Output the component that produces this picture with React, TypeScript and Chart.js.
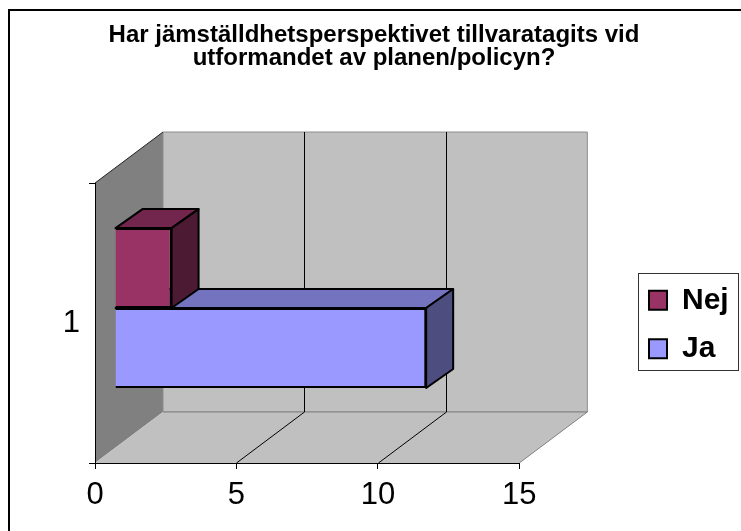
import React, { useEffect, useRef } from 'react';
import { Chart, registerables } from 'chart.js';

Chart.register(...registerables);

// ---- data ----
const categories = ['1'];
const seriesLabels = ['Nej', 'Ja'];
const nejValues = [2];
const jaValues = [11];
const xMin = 0;
const xMax = 15;
const xStep = 5;
const titleLines = ['Har jämställdhetsperspektivet tillvaratagits vid', 'utformandet av planen/policyn?'];

// ---- style ----
const FONT = '"Liberation Sans", Arial, Helvetica, sans-serif';
const W = 741;
const H = 531;
const frontColors = ['#993366', '#9999FF'];
const topColors = ['#73264D', '#7373BF'];
const sideColors = ['#4D1A33', '#4D4D80'];
const WALL_DX = 68;
const WALL_DY = -51;
const BAR_SHIFT_X = 20;
const BAR_SHIFT_Y = -15;
const BAR_DX = 27;
const BAR_DY = -19;
const LEGEND_PAD = 18.5;
const LEGEND_FONT = 30;
const LEGEND_SWATCH_X = 649;
const LEGEND_DY = 1.5;

const wallsPlugin = {
  id: 'walls3d',
  beforeDraw(chart: any) {
    const { ctx, chartArea } = chart;
    const { left, right, top, bottom } = chartArea;
    const xs = chart.scales.x;
    ctx.save();
    ctx.lineWidth = 1;
    // side wall
    ctx.beginPath();
    ctx.moveTo(left, top);
    ctx.lineTo(left + WALL_DX, top + WALL_DY);
    ctx.lineTo(left + WALL_DX, bottom + WALL_DY);
    ctx.lineTo(left, bottom);
    ctx.closePath();
    ctx.fillStyle = '#808080';
    ctx.fill();
    // back wall
    ctx.beginPath();
    ctx.rect(left + WALL_DX, top + WALL_DY, right - left, bottom - top);
    ctx.fillStyle = '#C0C0C0';
    ctx.fill();
    ctx.strokeStyle = '#8C8C8C';
    ctx.stroke();
    // floor
    ctx.beginPath();
    ctx.moveTo(left, bottom);
    ctx.lineTo(right, bottom);
    ctx.lineTo(right + WALL_DX, bottom + WALL_DY);
    ctx.lineTo(left + WALL_DX, bottom + WALL_DY);
    ctx.closePath();
    ctx.fillStyle = '#C0C0C0';
    ctx.fill();
    ctx.strokeStyle = '#808080';
    ctx.beginPath();
    ctx.moveTo(right, bottom);
    ctx.lineTo(right + WALL_DX, bottom + WALL_DY);
    ctx.lineTo(left + WALL_DX, bottom + WALL_DY);
    ctx.stroke();
    // side wall top edge
    ctx.strokeStyle = '#222';
    ctx.beginPath();
    ctx.moveTo(left, top);
    ctx.lineTo(left + WALL_DX, top + WALL_DY);
    ctx.stroke();
    // grid lines on back wall and floor
    ctx.strokeStyle = '#000';
    xs.ticks.forEach((t: any) => {
      if (t.value <= xs.min || t.value >= xs.max) return;
      const px = Math.round(xs.getPixelForValue(t.value)) + 0.5;
      ctx.beginPath();
      ctx.moveTo(px + WALL_DX, top + WALL_DY);
      ctx.lineTo(px + WALL_DX, bottom + WALL_DY);
      ctx.lineTo(px, bottom);
      ctx.stroke();
    });
    ctx.restore();
  },
  beforeDatasetsDraw(chart: any) {
    chart.ctx.save();
    chart.ctx.translate(BAR_SHIFT_X, BAR_SHIFT_Y);
  },
  afterDatasetDraw(chart: any, args: any) {
    const { ctx } = chart;
    const i = args.index;
    args.meta.data.forEach((el: any) => {
      const { x, y, base, height } = el.getProps(['x', 'y', 'base', 'height'], true);
      const l = Math.min(x, base);
      const r = Math.max(x, base);
      const t = y - height / 2;
      const b = y + height / 2;
      ctx.save();
      ctx.lineWidth = 2;
      ctx.lineJoin = 'round';
      ctx.strokeStyle = '#000';
      // top face
      ctx.beginPath();
      ctx.moveTo(l, t);
      ctx.lineTo(r, t);
      ctx.lineTo(r + BAR_DX, t + BAR_DY);
      ctx.lineTo(l + BAR_DX, t + BAR_DY);
      ctx.closePath();
      ctx.fillStyle = topColors[i];
      ctx.fill();
      ctx.stroke();
      // side face
      ctx.beginPath();
      ctx.moveTo(r, t);
      ctx.lineTo(r + BAR_DX, t + BAR_DY);
      ctx.lineTo(r + BAR_DX, b + BAR_DY);
      ctx.lineTo(r, b);
      ctx.closePath();
      ctx.fillStyle = sideColors[i];
      ctx.fill();
      ctx.stroke();
      ctx.restore();
    });
  },
  afterDatasetsDraw(chart: any) {
    chart.ctx.restore();
  },
  afterLayout(chart: any) {
    const lg = chart.legend;
    if (lg) {
      const dx = LEGEND_SWATCH_X - (lg.left + LEGEND_PAD);
      lg.left += dx;
      lg.right += dx;
      lg.top += LEGEND_DY;
      lg.bottom += LEGEND_DY;
    }
    const tb = chart.titleBlock;
    if (tb) {
      tb.left = 7;
      tb.right = chart.width;
    }
  },
  afterDraw(chart: any) {
    const lg = chart.legend;
    if (!lg) return;
    const n = lg.legendItems ? lg.legendItems.length : 2;
    const itemH = LEGEND_FONT;
    const colH = n * (itemH + LEGEND_PAD);
    const firstY = (lg.top + LEGEND_PAD + lg.bottom - colH) / 2;
    const x0 = lg.left + LEGEND_PAD - 11;
    const { ctx } = chart;
    ctx.save();
    ctx.strokeStyle = '#333';
    ctx.lineWidth = 1;
    ctx.strokeRect(Math.round(x0) + 0.5, Math.round(firstY - 12.5) + 0.5, 100, Math.round(colH - 0.5));
    ctx.restore();
  },
};

export default function App() {
  const ref = useRef<HTMLCanvasElement | null>(null);
  useEffect(() => {
    if (!ref.current) return;
    const chart = new Chart(ref.current, {
      type: 'bar',
      data: {
        labels: categories,
        datasets: [
          {
            label: seriesLabels[0],
            data: nejValues,
            backgroundColor: frontColors[0],
            borderColor: '#000',
            borderWidth: 2,
            categoryPercentage: 0.571,
            barPercentage: 1,
            clip: false as any,
          },
          {
            label: seriesLabels[1],
            data: jaValues,
            backgroundColor: frontColors[1],
            borderColor: '#000',
            borderWidth: 2,
            categoryPercentage: 0.571,
            barPercentage: 1,
            clip: false as any,
          },
        ],
      },
      options: {
        indexAxis: 'y',
        responsive: false,
        animation: false,
        events: [],
        layout: { padding: { left: 0, top: 0, right: 113.5, bottom: 0 } },
        scales: {
          x: {
            type: 'linear',
            min: xMin,
            max: xMax,
            ticks: { stepSize: xStep, color: '#000', font: { family: FONT, size: 31 }, padding: 7.5 },
            grid: { drawOnChartArea: false, drawTicks: true, tickLength: 6, color: '#000' },
            border: { display: true, color: '#000', width: 1 },
            afterFit: (s: any) => { s.height = 68; },
          },
          y: {
            type: 'category',
            ticks: { color: '#000', font: { family: FONT, size: 31 }, padding: 9 },
            grid: { drawOnChartArea: false, drawTicks: true, tickLength: 6, color: '#000', offset: true },
            border: { display: true, color: '#000', width: 1 },
            afterFit: (s: any) => { s.width = 95; },
          },
        },
        plugins: {
          title: {
            display: true,
            text: titleLines,
            color: '#000',
            font: { family: FONT, size: 24, weight: 'bold', lineHeight: 0.94 },
            padding: { top: 24.2, bottom: 113.7 },
          },
          legend: {
            display: true,
            position: 'right',
            fullSize: false,
            labels: {
              color: '#000',
              font: { family: FONT, size: LEGEND_FONT, weight: 'bold' },
              boxWidth: 18,
              boxHeight: 19,
              padding: LEGEND_PAD,
            },
          },
          tooltip: { enabled: false },
        },
      },
      plugins: [wallsPlugin],
    });
    return () => chart.destroy();
  }, []);

  return (
    <div style={{ position: 'fixed', left: 0, top: 0, width: W, height: H, overflow: 'hidden', background: '#fff' }}>
      <canvas ref={ref} width={W} height={H} style={{ display: 'block' }} />
      <div
        style={{
          position: 'absolute',
          left: 8,
          top: 9,
          width: W + 50,
          height: H + 50,
          borderTop: '2px solid #000',
          borderLeft: '2px solid #000',
          pointerEvents: 'none',
        }}
      />
    </div>
  );
}
